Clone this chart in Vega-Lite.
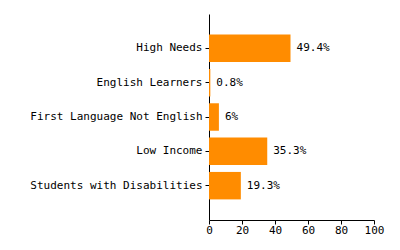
{
  "$schema": "https://vega.github.io/schema/vega-lite/v6.json",
  "width": 165,
  "height": 206,
  "padding": {"left": 29, "top": 14, "right": 5, "bottom": 5},
  "background": "white",
  "config": {
    "view": {"stroke": null},
    "font": "DejaVu Sans Mono",
    "axis": {
      "labelFont": "DejaVu Sans Mono",
      "labelFontSize": 11,
      "labelColor": "black",
      "domainColor": "black",
      "tickColor": "black",
      "tickSize": 4,
      "grid": false,
      "title": null
    }
  },
  "data": {
    "values": [
      {"category": "High Needs", "value": 49.4, "label": "49.4%"},
      {"category": "English Learners", "value": 0.8, "label": "0.8%"},
      {"category": "First Language Not English", "value": 6, "label": "6%"},
      {"category": "Low Income", "value": 35.3, "label": "35.3%"},
      {"category": "Students with Disabilities", "value": 19.3, "label": "19.3%"}
    ]
  },
  "encoding": {
    "y": {
      "field": "category",
      "type": "nominal",
      "sort": null,
      "scale": {"paddingInner": 0.2, "paddingOuter": 0.6},
      "axis": {"labelPadding": 3, "labelLimit": 300}
    },
    "x": {
      "field": "value",
      "type": "quantitative",
      "scale": {"domain": [0, 100], "nice": false},
      "axis": {"values": [0, 20, 40, 60, 80, 100], "labelFlush": false, "labelPadding": 0}
    }
  },
  "layer": [
    {"mark": {"type": "bar", "color": "#FF8C00"}},
    {
      "mark": {"type": "text", "align": "left", "baseline": "middle", "dx": 6, "fontSize": 11, "color": "black"},
      "encoding": {"text": {"field": "label"}}
    }
  ]
}
